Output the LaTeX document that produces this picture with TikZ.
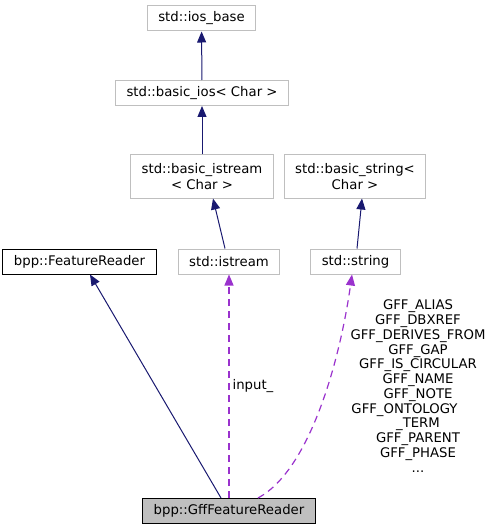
\documentclass[tikz,border=0pt]{standalone}
\usepackage{fontspec}
\setmainfont{DejaVu Sans}
\usepackage{tikz}
\usetikzlibrary{arrows.meta, positioning, calc}
\definecolor{edgeblue}{RGB}{25, 25, 112}
\definecolor{edgepurple}{RGB}{154, 50, 205}
\definecolor{boxgray}{RGB}{191, 191, 191}
\tikzset{
	cls/.style={draw=boxgray, line width=1bp, fill=white, font=\fontsize{13.3}{15.5}\selectfont, minimum height=25bp, inner xsep=11bp, inner ysep=4bp, align=center},
	twoline/.style={cls, minimum height=43bp},
	own/.style={cls, draw=black},
	self/.style={cls, draw=black, fill=boxgray},
	inherit/.style={draw=edgeblue, line width=1bp, -{Triangle[length=11bp, width=9bp]}},
	usage/.style={draw=edgepurple, line width=1.2bp, dash pattern=on 7bp off 5bp, -{Triangle[length=11bp, width=9bp]}},
	lbl/.style={font=\fontsize{13.3}{14.8}\selectfont, align=center, inner sep=0pt}
}

\begin{document}
\begin{tikzpicture}[x=1bp, y=-1bp]
		\useasboundingbox (0,0) rectangle (492,531);
		% classes
		\node[cls] (iosbase) at (201.5,18.5) {std::ios\_base};
		\node[cls] (basicios) at (202,93) {std::basic\_ios< Char >};
		\node[twoline] (bistream) at (202,176.5) {std::basic\_istream\\< Char >};
		\node[twoline] (bstring) at (355,176.5) {std::basic\_string<\\ Char >};
		\node[own] (freader) at (79.5,261.5) {bpp::FeatureReader};
		\node[cls] (istream) at (229,261.5) {std::istream};
		\node[cls] (string) at (355.5,261.5) {std::string};
		\node[self] (gff) at (229,511) {bpp::GffFeatureReader};
		% inheritance
		\draw[inherit] (basicios) -- (iosbase);
		\draw[inherit] (bistream) -- (basicios);
		\draw[inherit] ([xshift=-4bp]istream.north) -- ([xshift=11bp]bistream.south);
		\draw[inherit] ([xshift=1.5bp]string.north) -- ([xshift=7bp]bstring.south);
		\draw[inherit] ([xshift=-8bp]gff.north) -- ([xshift=10.5bp]freader.south);
		% members
		\draw[usage] (gff.north -| istream) -- (istream.south) node[lbl, pos=0.5, right=3bp] (inlbl) {input\_};
		\draw[usage] ([xshift=29bp]gff.north) .. controls (310,470) and (340,360) .. ([xshift=-3.5bp]string.south);
		\node[lbl] (gfflbl) at (418,386) {GFF\_ALIAS\\GFF\_DBXREF\\GFF\_DERIVES\_FROM\\GFF\_GAP\\GFF\_IS\_CIRCULAR\\GFF\_NAME\\GFF\_NOTE\\GFF\_ONTOLOGY\hspace{27bp}\null\\\_TERM\\GFF\_PARENT\\GFF\_PHASE\\...};
\end{tikzpicture}
\end{document}
